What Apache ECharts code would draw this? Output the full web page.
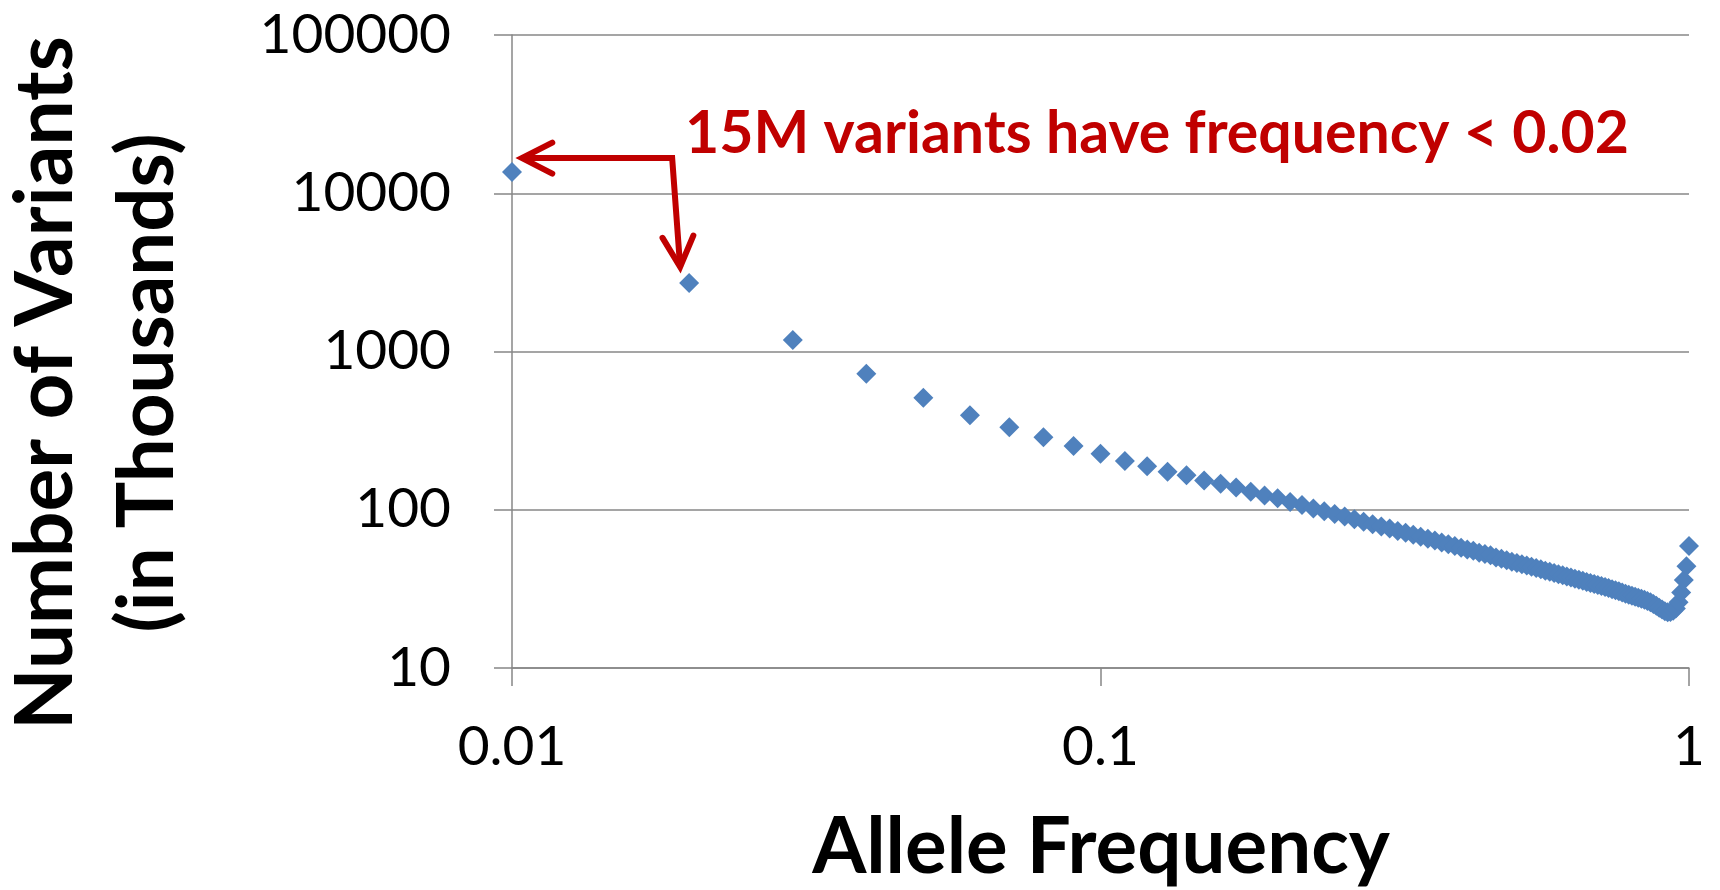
<!DOCTYPE html>
<html>
<head>
<meta charset="utf-8">
<title>Allele Frequency Spectrum</title>
<script src="https://cdn.jsdelivr.net/npm/echarts@6/dist/echarts.min.js"></script>
<style>
  html, body { margin: 0; padding: 0; background: #ffffff; }
  #chart { width: 1720px; height: 890px; }
</style>
</head>
<body>
<div id="chart"></div>
<script>
// Allele frequency bins (x) and number of variants per bin, in thousands (y)
const frequencies = [
  0.01, 0.02, 0.03, 0.04, 0.05, 0.06, 0.07, 0.08, 0.09, 0.10,
  0.11, 0.12, 0.13, 0.14, 0.15, 0.16, 0.17, 0.18, 0.19, 0.20,
  0.21, 0.22, 0.23, 0.24, 0.25, 0.26, 0.27, 0.28, 0.29, 0.30,
  0.31, 0.32, 0.33, 0.34, 0.35, 0.36, 0.37, 0.38, 0.39, 0.40,
  0.41, 0.42, 0.43, 0.44, 0.45, 0.46, 0.47, 0.48, 0.49, 0.50,
  0.51, 0.52, 0.53, 0.54, 0.55, 0.56, 0.57, 0.58, 0.59, 0.60,
  0.61, 0.62, 0.63, 0.64, 0.65, 0.66, 0.67, 0.68, 0.69, 0.70,
  0.71, 0.72, 0.73, 0.74, 0.75, 0.76, 0.77, 0.78, 0.79, 0.80,
  0.81, 0.82, 0.83, 0.84, 0.85, 0.86, 0.87, 0.88, 0.89, 0.90,
  0.91, 0.92, 0.93, 0.94, 0.95, 0.96, 0.97, 0.98, 0.99, 1.00
];
const variantCounts = [
  13600, 2710, 1183, 724, 511, 395, 332, 287, 253, 226,
  203, 188, 174, 165, 153, 146, 138, 130, 123, 118,
  112, 107, 102, 98, 94, 90.5, 87, 84, 81, 78.5,
  76, 73.5, 71.5, 69.5, 67.5, 65.5, 64, 62, 60.5, 59,
  57.5, 56, 55, 53.5, 52.5, 51.5, 50, 49, 48, 47,
  46, 45.2, 44.4, 43.6, 42.8, 42, 41.2, 40.5, 39.8, 39.1,
  38.5, 37.9, 37.3, 36.7, 36.1, 35.6, 35.0, 34.5, 34.0, 33.5,
  33.0, 32.5, 32.0, 31.5, 31.0, 30.5, 30.0, 29.5, 29.0, 28.6,
  28.2, 27.8, 27.4, 27.0, 26.5, 26.0, 25.4, 24.7, 24.0, 23.4,
  22.8, 22.5, 22.6, 23.0, 23.8, 26.0, 30.0, 36.0, 44.0, 59.0
];

// Axis tick labels
const xTickLabels = ['0.01', '0.1', '1'];
const yTickLabels = ['10', '100', '1000', '10000', '100000'];

const xTitle = 'Allele Frequency';
const yTitleLines = ['Number of Variants', '(in Thousands)'];
const noteText = '15M variants have frequency < 0.02';

const FONT = 'Lato, "Open Sans", sans-serif';
const GRID_GREY = '#878787';
const MARK_BLUE = '#4F81BD';
const NOTE_RED = '#C00000';

function tickLabel(list, value) {
  const exp = Math.round(Math.log10(value));
  const match = list.find(s => Math.round(Math.log10(parseFloat(s))) === exp);
  return match !== undefined ? match : '';
}

const chart = echarts.init(document.getElementById('chart'), null, { renderer: 'canvas' });

chart.setOption({
  animation: false,
  backgroundColor: '#ffffff',
  grid: {
    left: 512, right: 31, top: 35, bottom: 222,
    containLabel: false,
    outerBoundsMode: 'none'
  },
  xAxis: {
    type: 'log',
    logBase: 10,
    min: 0.01,
    max: 1,
    axisLine: { show: true, onZero: false, lineStyle: { color: GRID_GREY, width: 1.5 } },
    axisTick: { show: true, inside: false, length: 18, lineStyle: { color: GRID_GREY, width: 1.5 } },
    minorTick: { show: false },
    splitLine: { show: false },
    axisLabel: {
      show: true,
      margin: 52,
      fontSize: 55,
      fontFamily: FONT,
      color: '#000000',
      showMinLabel: true,
      showMaxLabel: true,
      formatter: v => tickLabel(xTickLabels, v)
    }
  },
  yAxis: {
    type: 'log',
    logBase: 10,
    min: 10,
    max: 100000,
    axisLine: { show: true, onZero: false, lineStyle: { color: GRID_GREY, width: 1.5 } },
    axisTick: { show: true, inside: false, length: 18, lineStyle: { color: GRID_GREY, width: 1.5 } },
    minorTick: { show: false },
    splitLine: { show: true, lineStyle: { color: GRID_GREY, width: 1.5 } },
    axisLabel: {
      show: true,
      margin: 61,
      fontSize: 55,
      fontFamily: FONT,
      color: '#000000',
      showMinLabel: true,
      showMaxLabel: true,
      formatter: v => tickLabel(yTickLabels, v)
    }
  },
  series: [{
    type: 'scatter',
    symbol: 'diamond',
    symbolSize: 20,
    itemStyle: { color: MARK_BLUE, opacity: 1 },
    emphasis: { disabled: true },
    data: frequencies.map((f, i) => [f, variantCounts[i]])
  }]
});

// Titles, callout text and the two red arrows pointing at the first two bins
function drawOverlay() {
  const p0 = chart.convertToPixel({ gridIndex: 0 }, [frequencies[0], variantCounts[0]]);
  const p1 = chart.convertToPixel({ gridIndex: 0 }, [frequencies[1], variantCounts[1]]);

  const tipLeft = [p0[0] + 10, p0[1] - 14];
  const tipDown = [p1[0] - 9, p1[1] - 16];
  const corner = [tipDown[0] - 8, tipLeft[1]];

  function chevron(tip, from, len, angleDeg) {
    const dx = tip[0] - from[0], dy = tip[1] - from[1];
    const d = Math.hypot(dx, dy);
    const ux = dx / d, uy = dy / d;
    const a = angleDeg * Math.PI / 180;
    const rot = (s) => {
      const c = Math.cos(s * a), sn = Math.sin(s * a);
      return [tip[0] - len * (ux * c - uy * sn), tip[1] - len * (ux * sn + uy * c)];
    };
    return [rot(1), tip, rot(-1)];
  }

  const arrowStyle = { stroke: NOTE_RED, lineWidth: 6, fill: null, lineJoin: 'miter', lineCap: 'round' };

  chart.setOption({
    graphic: [
      {
        type: 'polyline', silent: true, z: 10,
        shape: { points: [tipLeft, corner, tipDown] },
        style: Object.assign({}, arrowStyle, { lineCap: 'butt' })
      },
      {
        type: 'polyline', silent: true, z: 10,
        shape: { points: chevron(tipLeft, corner, 34, 27) },
        style: arrowStyle
      },
      {
        type: 'polyline', silent: true, z: 10,
        shape: { points: chevron(tipDown, corner, 34, 27) },
        style: arrowStyle
      },
      {
        type: 'text', silent: true, z: 10,
        x: 1157, y: 134,
        style: {
          text: noteText,
          fill: NOTE_RED,
          font: 'bold 59px ' + FONT,
          align: 'center',
          verticalAlign: 'middle'
        }
      },
      {
        type: 'text', silent: true,
        x: 1101, y: 848,
        style: {
          text: xTitle,
          fill: '#000000',
          font: 'bold 78px ' + FONT,
          align: 'center',
          verticalAlign: 'middle'
        }
      },
      {
        type: 'text', silent: true,
        x: 46, y: 383, rotation: Math.PI / 2,
        style: {
          text: yTitleLines[0],
          fill: '#000000',
          font: 'bold 80px ' + FONT,
          align: 'center',
          verticalAlign: 'middle'
        }
      },
      {
        type: 'text', silent: true,
        x: 148, y: 383, rotation: Math.PI / 2,
        style: {
          text: yTitleLines[1],
          fill: '#000000',
          font: 'bold 78px ' + FONT,
          align: 'center',
          verticalAlign: 'middle'
        }
      }
    ]
  });
}

drawOverlay();
</script>
</body>
</html>
